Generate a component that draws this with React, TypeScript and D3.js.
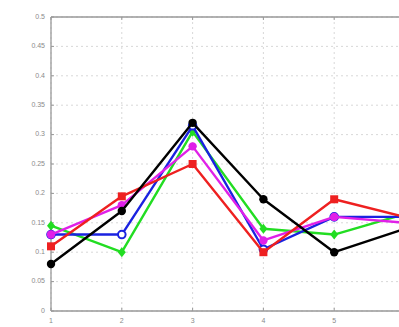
import * as d3 from "d3";

const xValues = [1, 2, 3, 4, 5, 6];
const xTickLabels = ["1", "2", "3", "4", "5"];
const yTicks = [0, 0.05, 0.1, 0.15, 0.2, 0.25, 0.3, 0.35, 0.4, 0.45, 0.5];

const seriesGreen = [0.145, 0.1, 0.305, 0.14, 0.13, 0.165];
const seriesBlue = [0.13, 0.13, 0.315, 0.105, 0.16, 0.16];
const seriesMagenta = [0.13, 0.18, 0.28, 0.12, 0.16, 0.15];
const seriesRed = [0.11, 0.195, 0.25, 0.1, 0.19, 0.16];
const seriesBlack = [0.08, 0.17, 0.32, 0.19, 0.1, 0.14];

type Marker = "circle" | "open" | "square" | "diamond";
const SERIES: { name: string; values: number[]; color: string; marker: Marker }[] = [
  { name: "green", values: seriesGreen, color: "#22dd22", marker: "diamond" },
  { name: "blue", values: seriesBlue, color: "#1a22e0", marker: "open" },
  { name: "magenta", values: seriesMagenta, color: "#e020e8", marker: "circle" },
  { name: "red", values: seriesRed, color: "#ee2020", marker: "square" },
  { name: "black", values: seriesBlack, color: "#000000", marker: "circle" },
];

const W = 399;
const H = 327;
const X0 = 51;
const X1 = 405;
const Y0 = 311;
const Y1 = 17;

export default function App() {
  const x = d3.scaleLinear().domain([1, 6]).range([X0, X1]);
  const y = d3.scaleLinear().domain([0, 0.5]).range([Y0, Y1]);
  const line = d3
    .line<number>()
    .x((_, i) => x(xValues[i]))
    .y((d) => y(d));

  const fmt = (v: number) => (v === 0 ? "0" : String(+v.toFixed(2)));

  return (
    <svg
      width={W}
      height={H}
      style={{ position: "absolute", left: 0, top: 0, background: "#fff" }}
      fontFamily="'Liberation Sans', Arial, sans-serif"
    >
      {/* grid */}
      {yTicks.map((t) => (
        <line
          key={"gy" + t}
          x1={X0}
          x2={X1}
          y1={y(t)}
          y2={y(t)}
          stroke="#d4d4d4"
          strokeWidth={0.9}
          strokeDasharray="2 3"
        />
      ))}
      {xValues.map((t) => (
        <line
          key={"gx" + t}
          x1={x(t)}
          x2={x(t)}
          y1={Y1}
          y2={Y0}
          stroke="#d4d4d4"
          strokeWidth={0.9}
          strokeDasharray="2 3"
        />
      ))}

      {/* axes box */}
      <line x1={X0} x2={X1} y1={Y1} y2={Y1} stroke="#999" strokeWidth={1.3} />
      <line x1={X0} x2={X1} y1={Y0} y2={Y0} stroke="#999" strokeWidth={1.3} />
      <line x1={X0} x2={X0} y1={Y1} y2={Y0} stroke="#999" strokeWidth={1.3} />

      {/* ticks + labels */}
      {yTicks.map((t) => (
        <g key={"ty" + t}>
          <line x1={X0} x2={X0 + 3} y1={y(t)} y2={y(t)} stroke="#999" />
          <text
            x={X0 - 6}
            y={y(t)}
            textAnchor="end"
            dominantBaseline="middle"
            fontSize={7}
            fill="#8a8a8a"
          >
            {fmt(t)}
          </text>
        </g>
      ))}
      {xValues.map((t) => (
        <g key={"tx" + t}>
          <line x1={x(t)} x2={x(t)} y1={Y0} y2={Y0 - 3} stroke="#999" />
          <line x1={x(t)} x2={x(t)} y1={Y1} y2={Y1 + 3} stroke="#999" />
        </g>
      ))}
      {xTickLabels.map((lab, i) => (
        <text
          key={"xl" + lab}
          x={x(xValues[i])}
          y={Y0 + 12}
          textAnchor="middle"
          fontSize={7}
          fill="#8a8a8a"
        >
          {lab}
        </text>
      ))}

      {/* series */}
      {SERIES.map((s) => (
        <g key={s.name}>
          <path
            d={line(s.values) ?? ""}
            fill="none"
            stroke={s.color}
            strokeWidth={2.4}
            strokeLinejoin="round"
          />
          {s.values.map((v, i) => {
            const cx = x(xValues[i]);
            const cy = y(v);
            if (s.marker === "square")
              return (
                <rect key={i} x={cx - 4} y={cy - 4} width={8} height={8} fill={s.color} />
              );
            if (s.marker === "diamond")
              return (
                <path
                  key={i}
                  d={`M${cx},${cy - 5}L${cx + 4},${cy}L${cx},${cy + 5}L${cx - 4},${cy}Z`}
                  fill={s.color}
                />
              );
            if (s.marker === "open")
              return (
                <circle
                  key={i}
                  cx={cx}
                  cy={cy}
                  r={3.8}
                  fill="#fff"
                  stroke={s.color}
                  strokeWidth={2}
                />
              );
            return <circle key={i} cx={cx} cy={cy} r={4.2} fill={s.color} />;
          })}
        </g>
      ))}
    </svg>
  );
}
